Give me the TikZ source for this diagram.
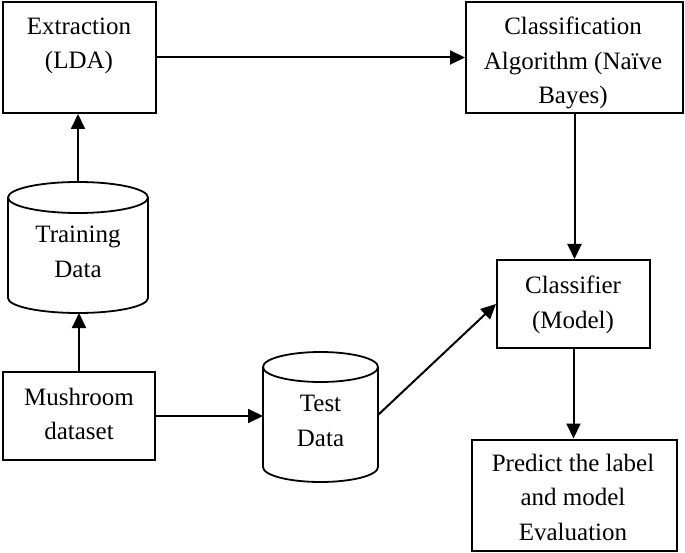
\documentclass[tikz,border=0pt]{standalone}
\usepackage{fontspec}
\setmainfont{Liberation Serif}
\usetikzlibrary{arrows.meta}
\tikzset{
  box/.style={draw, line width=2pt, inner sep=0pt},
  txt/.style={align=center, inner sep=0pt, font=\fontsize{25}{34.5}\selectfont},
  arr/.style={line width=2pt, -{Triangle[length=15pt,width=14pt]}},
  cyl/.style={line width=1.8pt}
}
\begin{document}
\begin{tikzpicture}[x=1pt,y=-1pt]
\useasboundingbox (0,0) rectangle (685,553);
% boxes
\node[box, minimum width=153pt, minimum height=111pt] (ext) at (79.5,57.5) {};
\node[box, minimum width=217pt, minimum height=111pt] (cls) at (574.5,57.5) {};
\node[box, minimum width=152pt, minimum height=88pt] (mush) at (79,416) {};
\node[box, minimum width=153pt, minimum height=88pt] (clf) at (573.5,304) {};
\node[box, minimum width=205pt, minimum height=111pt] (pred) at (574.5,495) {};
% texts
\node[txt] (exttxt) at (79,46) {Extraction\\(LDA)};
\node[txt] (clstxt) at (573,63) {Classification\\Algorithm (Naïve\\Bayes)};
\node[txt] (mushtxt) at (79,414) {Mushroom\\dataset};
\node[txt] (clftxt) at (573,305) {Classifier\\(Model)};
\node[txt] (predtxt) at (573,497) {Predict the label\\and model\\Evaluation};
% training cylinder
\draw[cyl] (78,197.5) ellipse [x radius=70, y radius=15.5];
\draw[cyl] (8,197.5) -- (8,298) arc[start angle=180, end angle=0, x radius=70, y radius=15] -- (148,197.5);
\node[txt] (trtxt) at (78,252) {Training\\Data};
\coordinate (trtop) at (78,182);
\coordinate (trbot) at (78,313);
% test cylinder
\draw[cyl] (320.5,367) ellipse [x radius=57.5, y radius=15];
\draw[cyl] (263,367) -- (263,467) arc[start angle=180, end angle=0, x radius=57.5, y radius=15] -- (378,367);
\node[txt] (tsttxt) at (320.5,421) {Test\\Data};
\coordinate (tsleft) at (263,416);
\coordinate (tsright) at (378,415);
% connectors
\draw[arr] (trtop) -- (trtop |- ext.south);
\draw[arr] (ext.east) -- (cls.west);
\draw[arr] (cls.south) -- (cls.south |- clf.north);
\draw[arr] (clf.south) -- (clf.south |- pred.north);
\draw[arr] (mush.north) -- (mush.north |- trbot);
\draw[arr] (mush.east) -- (tsleft);
\draw[arr] (tsright) -- (clf.west);
\end{tikzpicture}
\end{document}
